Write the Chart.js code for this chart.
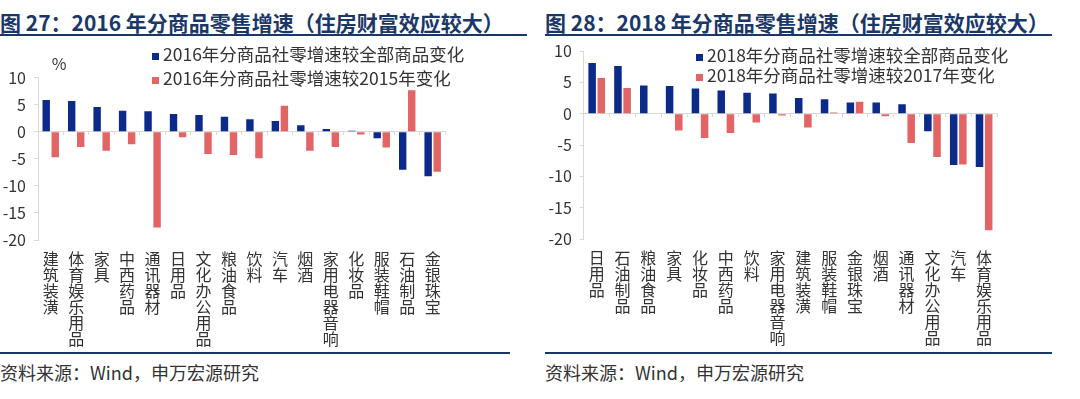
<!DOCTYPE html>
<html>
<head>
<meta charset="utf-8">
<script src="https://cdn.jsdelivr.net/npm/chart.js@4"></script>
<style>
  html, body { margin: 0; padding: 0; background: #fff; }
  body { width: 1080px; height: 399px; position: relative; overflow: hidden;
         font-family: "Noto Sans CJK SC", "Noto Sans", sans-serif; }
  .abs { position: absolute; white-space: nowrap; }
  .title { font-size: 21px; font-weight: bold; color: #1B3768; height: 26px; line-height: 26px; }
  .rule { position: absolute; height: 2px; background: #1B3768; }
  .src { font-size: 18px; color: #333; height: 22px; line-height: 22px; }
  .leg { font-size: 17.5px; color: #333; height: 22px; line-height: 22px; }
  .sw { display: inline-block; width: 7px; height: 7px; margin-right: 4px; vertical-align: 1px; }
  .chartbox { position: absolute; }
</style>
</head>
<body>
<div class="abs title" style="left:0px; top:9px;">图 27：2016 年分商品零售增速（住房财富效应较大）</div>
<div class="rule" style="left:0px; top:34px; width:527px;"></div>
<div class="abs title" style="left:545px; top:9px;">图 28：2018 年分商品零售增速（住房财富效应较大）</div>
<div class="rule" style="left:545px; top:34px; width:507px;"></div>

<div class="chartbox" style="left:0px; top:40px; width:540px; height:312px;"><canvas id="c1"></canvas></div>
<div class="chartbox" style="left:540px; top:40px; width:540px; height:312px;"><canvas id="c2"></canvas></div>

<div class="abs leg" style="left:59px; top:52px; transform:translateX(-50%); font-size:16px;">%</div>
<div class="abs leg" id="l1a" style="left:152px; top:43px;"></div>
<div class="abs leg" id="l1b" style="left:152px; top:67px;"></div>
<div class="abs leg" id="l2a" style="left:696px; top:44px;"></div>
<div class="abs leg" id="l2b" style="left:696px; top:64px;"></div>

<div class="rule" style="left:0px; top:352px; width:510px;"></div>
<div class="rule" style="left:545px; top:352px; width:507px;"></div>
<div class="abs src" style="left:0px; top:361px;">资料来源：Wind，申万宏源研究</div>
<div class="abs src" style="left:545px; top:361px;">资料来源：Wind，申万宏源研究</div>

<script>
// ---------- Data ----------
const cats2016 = ['建筑装潢','体育娱乐用品','家具','中西药品','通讯器材','日用品','文化办公用品','粮油食品','饮料','汽车','烟酒','家用电器音响','化妆品','服装鞋帽','石油制品','金银珠宝'];
const vsAll2016 = [5.9, 5.7, 4.6, 3.9, 3.8, 3.3, 3.1, 2.8, 2.3, 2.0, 1.2, 0.5, 0.2, -1.2, -7.0, -8.2];
const vs2015 = [-4.7, -2.8, -3.5, -2.3, -17.7, -1.0, -4.1, -4.3, -4.9, 4.8, -3.5, -2.8, -0.5, -2.9, 7.7, -7.4];

const cats2018 = ['日用品','石油制品','粮油食品','家具','化妆品','中西药品','饮料','家用电器音响','建筑装潢','服装鞋帽','金银珠宝','烟酒','通讯器材','文化办公用品','汽车','体育娱乐用品'];
const vsAll2018 = [8.1, 7.6, 4.5, 4.4, 4.0, 3.7, 3.35, 3.2, 2.5, 2.3, 1.8, 1.8, 1.5, -2.8, -8.2, -8.5];
const vs2017 = [5.7, 4.1, 0, -2.7, -3.9, -3.1, -1.4, -0.3, -2.2, 0.2, 1.9, -0.4, -4.7, -6.9, -8.1, -18.6];

const yTicks = [-20, -15, -10, -5, 0, 5, 10];
const seriesNames2016 = ['2016年分商品社零增速较全部商品变化', '2016年分商品社零增速较2015年变化'];
const seriesNames2018 = ['2018年分商品社零增速较全部商品变化', '2018年分商品社零增速较2017年变化'];

const BLUE = '#0B2A8A';
const RED = '#E36464';
const AXIS = '#D9D9D9';

Chart.defaults.font.family = '"Noto Sans CJK SC", "Noto Sans", sans-serif';
Chart.defaults.color = '#333';

function legendHTML(color, text) {
  return '<span class="sw" style="background:' + color + '"></span>' + text;
}
document.getElementById('l1a').innerHTML = legendHTML(BLUE, seriesNames2016[0]);
document.getElementById('l1b').innerHTML = legendHTML(RED, seriesNames2016[1]);
document.getElementById('l2a').innerHTML = legendHTML(BLUE, seriesNames2018[0]);
document.getElementById('l2b').innerHTML = legendHTML(RED, seriesNames2018[1]);

function makeChart(id, cats, a, b, names, yWidth, padTop, padRight, xHeight) {
  new Chart(document.getElementById(id), {
    type: 'bar',
    data: {
      labels: cats.map(s => s.split('')),
      datasets: [
        { label: names[0], data: a, backgroundColor: BLUE, categoryPercentage: 0.71, barPercentage: 0.82 },
        { label: names[1], data: b, backgroundColor: RED, categoryPercentage: 0.71, barPercentage: 0.82 }
      ]
    },
    options: {
      responsive: true,
      maintainAspectRatio: false,
      animation: false,
      devicePixelRatio: 1,
      layout: { padding: { top: padTop, right: padRight, left: 0, bottom: 0 } },
      plugins: { legend: { display: false }, tooltip: { enabled: false } },
      scales: {
        x: {
          position: 'bottom',
          grid: { display: false, drawTicks: false },
          border: { display: false },
          ticks: {
            autoSkip: false, maxRotation: 0, minRotation: 0,
            padding: 11,
            font: { size: 16, lineHeight: 1.0 },
            color: '#333'
          },
          afterFit: s => { s.height = xHeight; s.paddingLeft = 0; s.paddingRight = 0; }
        },
        x0: {
          type: 'category',
          position: { y: 0 },
          offset: true,
          ticks: { display: false },
          grid: { drawOnChartArea: false, drawTicks: true, tickLength: 3, color: AXIS, offset: true },
          border: { display: true, color: AXIS, width: 1 }
        },
        y: {
          min: -20, max: 10,
          afterBuildTicks: s => { s.ticks = yTicks.map(v => ({ value: v })); },
          grid: {
            drawOnChartArea: false,
            color: AXIS,
            tickColor: AXIS,
            tickLength: 4,
            lineWidth: 1
          },
          border: { display: true, color: AXIS },
          ticks: { padding: 8, font: { size: 16 }, color: '#333' },
          afterFit: s => { s.width = yWidth; s.paddingTop = 0; s.paddingBottom = 0; }
        }
      }
    }
  });
}

makeChart('c1', cats2016, vsAll2016, vs2015, seriesNames2016, 38, 37.7, 94.6, 112);
makeChart('c2', cats2018, vsAll2018, vs2017, seriesNames2018, 43.8, 11, 83, 113);
</script>
</body>
</html>
